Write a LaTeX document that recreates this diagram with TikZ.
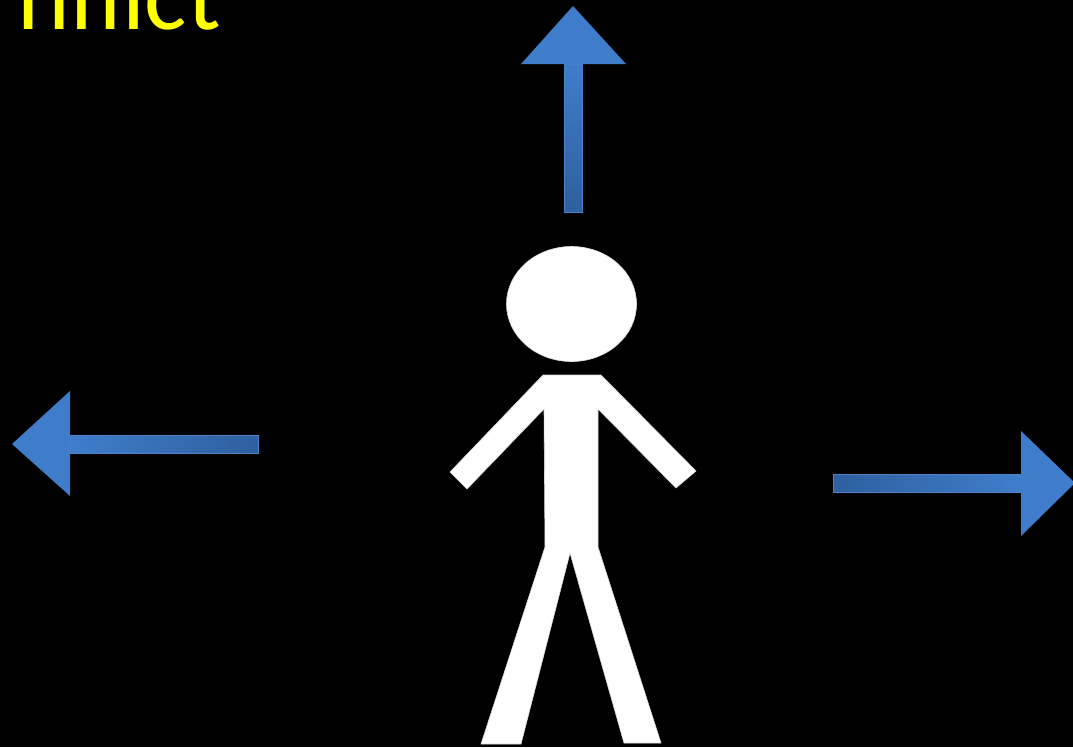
\documentclass[tikz,border=0pt]{standalone}
\usepackage{fontspec}
\setmainfont{Carlito}
\definecolor{headblue}{HTML}{3F7DCB}
\definecolor{tailblue}{HTML}{2F5F9E}
\definecolor{edgeblue}{HTML}{4A82CC}
\definecolor{titleyellow}{HTML}{FFFF00}
\tikzset{
  arrowhead/.style={fill=headblue,draw=none},
  shaft/.style={draw=edgeblue,line width=1pt},
  figure/.style={fill=white,draw=black!15!white,line width=0.6pt,line join=miter}
}
\begin{document}
\begin{tikzpicture}[x=1pt,y=-1pt]
\useasboundingbox (0,0) rectangle (1073,747);
\fill[black] (0,0) rectangle (1073,747);
\begin{scope}
\clip (0,0) rectangle (1073,747);
\node[anchor=base east,inner sep=0pt,text=titleyellow,font=\fontsize{100}{100}\selectfont] (title) at (221,29) {Co\kern14pt nflict};
% up arrow
\shade[shaft,bottom color=tailblue,top color=headblue] (564.5,64) rectangle (582,212);
\fill[arrowhead] (573,6) -- (626,64) -- (521,64) -- cycle;
% left arrow
\shade[shaft,left color=headblue,right color=tailblue] (70,435) rectangle (258,453);
\fill[arrowhead] (12,444) -- (70,391) -- (70,496) -- cycle;
% right arrow
\shade[shaft,left color=tailblue,right color=headblue] (833,474) rectangle (1021,492);
\fill[arrowhead] (1075,483) -- (1021,431) -- (1021,536) -- cycle;
% figure
\draw[figure] (571.5,304) ellipse [x radius=65, y radius=57.5];
\draw[figure] (543,375) -- (601,375) -- (696,471) -- (676,488) -- (598,409) -- (598,547) -- (661,743) -- (624,743) -- (570,553) -- (521,744) -- (481,744) -- (545,547) -- (544,409) -- (467,489) -- (450,472) -- cycle;
\end{scope}
\end{tikzpicture}
\end{document}
